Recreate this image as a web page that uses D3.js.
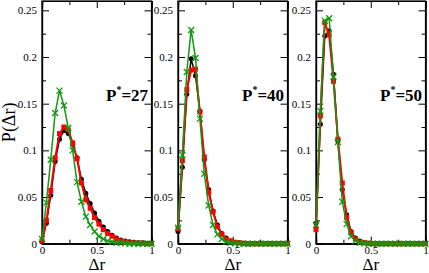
<!DOCTYPE html>
<html>
<head>
<meta charset="utf-8">
<script src="https://cdn.jsdelivr.net/npm/d3@7"></script>
<style>
  body { margin: 0; background: #fff; }
  svg { display: block; }
</style>
</head>
<body>
<div id="chart_div"></div>
<script>
// size of the whole picture
var width = 429,
  height = 273;

// bin centres, same for every panel
var deltaR = [0, 0.04, 0.08, 0.12, 0.16, 0.2, 0.24, 0.28, 0.32, 0.36, 0.4, 0.44, 0.48,
  0.52, 0.56, 0.6, 0.64, 0.68, 0.72, 0.76, 0.8, 0.84, 0.88, 0.92, 0.96, 1.0];

var panelNames = ["27", "40", "50"];

// P* = 27
var black27 = [0.002, 0.022, 0.052, 0.088, 0.112, 0.121, 0.118, 0.106, 0.092, 0.069, 0.054, 0.043, 0.033,
  0.024, 0.018, 0.013, 0.009, 0.006, 0.004, 0.003, 0.002, 0.0015, 0.001, 0.001, 0.0005, 0.0005];
var red27 = [0.003, 0.025, 0.057, 0.092, 0.118, 0.125, 0.122, 0.108, 0.091, 0.065, 0.047, 0.038, 0.028,
  0.021, 0.015, 0.011, 0.008, 0.005, 0.003, 0.002, 0.001, 0.001, 0.0005, 0.0005, 0, 0];
var green27 = [0.005, 0.044, 0.09, 0.14, 0.164, 0.148, 0.124, 0.1, 0.066, 0.045, 0.029, 0.02, 0.013,
  0.008, 0.005, 0.003, 0.002, 0.001, 0.001, 0.0005, 0, 0, 0, 0, 0, 0];

// P* = 40
var black40 = [0.013, 0.082, 0.16, 0.198, 0.18, 0.142, 0.09, 0.058, 0.035, 0.02, 0.011, 0.006, 0.003,
  0.0015, 0.001, 0.0005, 0, 0, 0, 0, 0, 0, 0, 0, 0, 0];
var red40 = [0.016, 0.089, 0.165, 0.186, 0.187, 0.141, 0.093, 0.055, 0.034, 0.018, 0.01, 0.005, 0.003,
  0.0015, 0.001, 0.0005, 0, 0, 0, 0, 0, 0, 0, 0, 0, 0];
var green40 = [0.017, 0.095, 0.184, 0.229, 0.199, 0.134, 0.075, 0.041, 0.02, 0.01, 0.005, 0.002, 0.001,
  0.0005, 0, 0, 0, 0, 0, 0, 0, 0, 0, 0, 0, 0];

// P* = 50
var black50 = [0.022, 0.128, 0.2225, 0.228, 0.1815, 0.11, 0.058, 0.031, 0.013, 0.006, 0.003, 0.001, 0.0005,
  0, 0, 0, 0, 0, 0, 0, 0, 0, 0, 0, 0, 0];
var red50 = [0.015, 0.137, 0.237, 0.2236, 0.174, 0.112, 0.065, 0.028, 0.012, 0.005, 0.002, 0.001, 0.0005,
  0, 0, 0, 0, 0, 0, 0, 0, 0, 0, 0, 0, 0];
var green50 = [0.02, 0.142, 0.239, 0.2415, 0.179, 0.109, 0.045, 0.021, 0.008, 0.003, 0.001, 0.0005, 0,
  0, 0, 0, 0, 0, 0, 0, 0, 0, 0, 0, 0, 0];

var yTicks = [0, 0.05, 0.1, 0.15, 0.2, 0.25];
var yTickLabels = ["0", "0.05", "0.1", "0.15", "0.2", "0.25"];
var xTicks = [0, 0.5, 1];
var xTickLabels = ["0", "0.5", "1"];

var panels = [
  { name: panelNames[0], black: black27, red: red27, green: green27 },
  { name: panelNames[1], black: black40, red: red40, green: green40 },
  { name: panelNames[2], black: black50, red: red50, green: green50 }
];

var panelLeft = [42, 178, 316],
  panelWidth = 109.5,
  plotTop = 1,
  plotBottom = 243.7;

var serif = "'Liberation Serif', 'Times New Roman', serif";

var svg = d3
  .select("#chart_div")
  .append("svg")
  .attr("width", width)
  .attr("height", height);

var y = d3.scaleLinear().domain([0, 0.26]).range([plotBottom, plotTop]);

var green = "#109a10";

panels.forEach(function(p, k) {
  var x = d3
    .scaleLinear()
    .domain([0, 1])
    .range([panelLeft[k], panelLeft[k] + panelWidth]);

  var g = svg.append("g");

  // ticks on all four sides, pointing inwards
  var xMinor = [0.25, 0.75];
  var yMinor = [0.025, 0.075, 0.125, 0.175, 0.225];

  g.append("g")
    .attr("transform", "translate(0," + plotBottom + ")")
    .call(d3.axisBottom(x).tickValues(xTicks).tickSize(-7).tickPadding(2)
      .tickFormat(function(d, i) { return xTickLabels[i]; }));
  g.append("g")
    .attr("transform", "translate(0," + plotBottom + ")")
    .call(d3.axisBottom(x).tickValues(xMinor).tickSize(-4).tickFormat(""));
  g.append("g")
    .attr("transform", "translate(0," + plotTop + ")")
    .call(d3.axisTop(x).tickValues(xTicks).tickSize(-7).tickFormat(""));
  g.append("g")
    .attr("transform", "translate(0," + plotTop + ")")
    .call(d3.axisTop(x).tickValues(xMinor).tickSize(-4).tickFormat(""));

  g.append("g")
    .attr("transform", "translate(" + x(0) + ",0)")
    .call(d3.axisLeft(y).tickValues(yTicks).tickSize(-7).tickPadding(5)
      .tickFormat(function(d, i) { return yTickLabels[i]; }));
  g.append("g")
    .attr("transform", "translate(" + x(0) + ",0)")
    .call(d3.axisLeft(y).tickValues(yMinor).tickSize(-4).tickFormat(""));
  g.append("g")
    .attr("transform", "translate(" + x(1) + ",0)")
    .call(d3.axisRight(y).tickValues(yTicks).tickSize(-7).tickFormat(""));
  g.append("g")
    .attr("transform", "translate(" + x(1) + ",0)")
    .call(d3.axisRight(y).tickValues(yMinor).tickSize(-4).tickFormat(""));

  g.selectAll(".domain").attr("stroke", "#000").attr("stroke-width", 1.2);
  g.selectAll(".tick line").attr("stroke", "#000").attr("stroke-width", 1);
  g.selectAll(".tick text")
    .attr("font-family", serif)
    .attr("font-size", "11px")
    .attr("fill", "#000");

  // close the box
  g.append("rect")
    .attr("x", x(0))
    .attr("y", plotTop)
    .attr("width", x(1) - x(0))
    .attr("height", plotBottom - plotTop)
    .attr("fill", "none")
    .attr("stroke", "#000")
    .attr("stroke-width", 1.2);

  var line = d3
    .line()
    .x(function(d, i) { return x(deltaR[i]); })
    .y(function(d) { return y(d); });

  // black circles
  g.append("path")
    .attr("d", line(p.black))
    .attr("fill", "none")
    .attr("stroke", "#000")
    .attr("stroke-width", 1.5);
  g.selectAll("circle.b")
    .data(p.black)
    .enter()
    .append("circle")
    .attr("cx", function(d, i) { return x(deltaR[i]); })
    .attr("cy", function(d) { return y(d); })
    .attr("r", 2.5)
    .attr("fill", "#000");

  // red squares
  g.append("path")
    .attr("d", line(p.red))
    .attr("fill", "none")
    .attr("stroke", "#ff0000")
    .attr("stroke-width", 2);
  g.selectAll("rect.r")
    .data(p.red)
    .enter()
    .append("rect")
    .attr("x", function(d, i) { return x(deltaR[i]) - 2.5; })
    .attr("y", function(d) { return y(d) - 2.5; })
    .attr("width", 5)
    .attr("height", 5)
    .attr("fill", "#ff0000");

  // green crosses
  g.append("path")
    .attr("d", line(p.green))
    .attr("fill", "none")
    .attr("stroke", green)
    .attr("stroke-width", 1.5);
  g.selectAll("path.gx")
    .data(p.green)
    .enter()
    .append("path")
    .attr("transform", function(d, i) {
      return "translate(" + x(deltaR[i]) + "," + y(d) + ")";
    })
    .attr("d", "M-3,-3L3,3M-3,3L3,-3")
    .attr("fill", "none")
    .attr("stroke", green)
    .attr("stroke-width", 1.3);

  // panel label
  var lab = g.append("text")
    .attr("x", x(0.585))
    .attr("y", y(0.153))
    .attr("font-family", serif)
    .attr("font-size", "17px")
    .attr("font-weight", "bold")
    .attr("fill", "#000");
  lab.append("tspan").text("P");
  lab.append("tspan").attr("font-size", "10px").attr("dy", -8).text("*");
  lab.append("tspan").attr("dy", 8).text("=" + p.name);

  // x axis title
  g.append("text")
    .attr("x", x(0.5))
    .attr("y", 270)
    .attr("text-anchor", "middle")
    .attr("font-family", serif)
    .attr("font-size", "17px")
    .attr("fill", "#000")
    .text("Δr");
});

// y axis title
svg.append("text")
  .attr("transform", "translate(15," + (plotTop + plotBottom) / 2 + ") rotate(-90)")
  .attr("text-anchor", "middle")
  .attr("font-family", serif)
  .attr("font-size", "18px")
  .attr("fill", "#000")
  .text("P(Δr)");
</script>
</body>
</html>
